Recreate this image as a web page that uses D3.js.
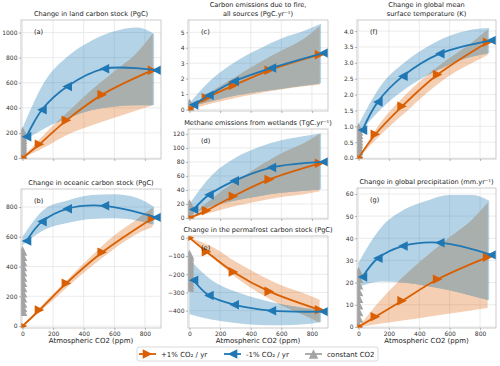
<!DOCTYPE html>
<html>
<head>
<meta charset="utf-8">
<script src="https://cdn.jsdelivr.net/npm/d3@7"></script>
<style>
  body { margin: 0; background: #fff; }
  text { font-family: "DejaVu Sans", sans-serif; }
</style>
</head>
<body>
<svg id="chart" width="500" height="366"></svg>
<script>
/**
 * Data. CO2 at the markers (ppm) for the ramp-up and ramp-down runs.
 */
const upCO2 = [0, 111, 287, 521, 850];
const downCO2 = [875, 535, 292, 127, 26];
// CO2 grid for the model spread bands
const upBandCO2 = [0, 150, 300, 450, 600, 750, 850];
const downBandCO2 = [0, 150, 300, 450, 600, 750, 860];
const xTicks = [0, 200, 400, 600, 800];

// (a) land carbon stock
const landUp = [0, 110, 300, 505, 700];
const landDown = [700, 712, 570, 385, 170];
const landUpLo = [0, 90, 190, 260, 320, 380, 420];
const landUpHi = [0, 200, 370, 540, 690, 840, 990];
const landDownLo = [130, 240, 320, 380, 410, 420, 420];
const landDownHi = [240, 620, 815, 935, 1010, 1040, 990];
const landConst = [210, 190, 170, 150, 130, 110, 90, 70, 50, 30, 10];

// (b) oceanic carbon stock
const oceanUp = [0, 108, 288, 496, 725];
const oceanDown = [730, 808, 788, 702, 572];
const oceanUpLo = [0, 130, 270, 400, 520, 620, 665];
const oceanUpHi = [0, 165, 320, 470, 610, 720, 795];
const oceanDownLo = [545, 650, 695, 720, 725, 710, 680];
const oceanDownHi = [600, 790, 845, 880, 885, 860, 800];
const oceanConst = [505, 470, 435, 400, 365, 330, 295, 260, 225, 190, 155, 125, 100];

// (c) fire emissions
const fireUp = [0.05, 0.75, 1.55, 2.54, 3.55];
const fireDown = [3.66, 2.69, 1.83, 0.92, 0.3];
const fireUpLo = [0, 0.4, 0.75, 1.05, 1.3, 1.5, 1.6];
const fireUpHi = [0.1, 1.2, 2.1, 3.0, 3.8, 4.6, 5.4];
const fireDownLo = [0.2, 0.55, 0.9, 1.15, 1.35, 1.55, 1.7];
const fireDownHi = [0.4, 2.0, 3.1, 3.9, 4.6, 5.1, 5.55];
const fireConst = [0.4, 0.3, 0.2, 0.1, 0];

// (d) wetland methane
const ch4Up = [0, 10.5, 31, 55, 78];
const ch4Down = [80, 72, 53, 33, 12];
const ch4UpLo = [0, 8, 17, 24, 30, 34, 38];
const ch4UpHi = [0, 28, 52, 73, 92, 107, 120];
const ch4DownLo = [4, 17, 25, 31, 36, 39, 41];
const ch4DownHi = [20, 62, 86, 101, 111, 117, 121];
const ch4Const = [20, 16, 12, 8, 4, 0];

// (e) permafrost carbon stock
const pfUp = [0, -76, -187, -294, -395];
const pfDown = [-405, -400, -367, -317, -233];
const pfUpLo = [0, -110, -215, -300, -370, -425, -465];
const pfUpHi = [0, -50, -130, -200, -260, -305, -340];
const pfDownLo = [-420, -450, -468, -478, -480, -475, -462];
const pfDownHi = [-120, -235, -295, -335, -365, -385, -395];
const pfConst = [-270, -255, -240, -225, -210, -195, -180, -165, -150, -135, -120, -105, -92];

// (f) global mean surface temperature
const tasUp = [0, 0.75, 1.63, 2.63, 3.65];
const tasDown = [3.71, 3.29, 2.58, 1.77, 0.88];
const tasUpLo = [0, 0.75, 1.4, 2.05, 2.6, 3.0, 3.25];
const tasUpHi = [0, 1.15, 1.95, 2.6, 3.15, 3.65, 4.05];
const tasDownLo = [0.75, 1.55, 2.15, 2.6, 2.95, 3.2, 3.3];
const tasDownHi = [1.05, 2.3, 3.0, 3.5, 3.85, 4.05, 4.1];
const tasConst = [0.95, 0.85, 0.75, 0.65, 0.55, 0.45, 0.35, 0.25, 0.15, 0.05];

// (g) global precipitation
const prUp = [0, 4.6, 11.8, 21.5, 31.5];
const prDown = [32.5, 38, 36.5, 31, 22.5];
const prUpLo = [0, 1.5, 3, 4.5, 6, 7.5, 8.5];
const prUpHi = [0, 12.5, 23, 32, 40.5, 48.5, 56];
const prDownLo = [18, 20.5, 20, 18.5, 16.5, 14, 12];
const prDownHi = [29, 45, 53, 57, 59.5, 59.5, 57];
const prConst = [25, 22, 19, 16, 13, 10, 7, 4, 1];

const legendLabels = ['+1% CO\u2082 / yr', '-1% CO\u2082 / yr', 'constant CO2'];

/**
 * Visual configs.
 */
const upColor = '#d95f02', downColor = '#1f78b4', constColor = '#a4a4a4', overlapColor = '#a9afad';
const colLeft = [21, 188, 357], colRight = [161, 328, 496];
const xDomain = [-10, 905];
const markerSize = 4.8;
const lineWidth = 1.8;

const panels = [
    { letter: 'a', title: ['Change in land carbon stock (PgC)'], col: 0, top: 20, bottom: 159,
      yDomain: [-8, 1100], yTicks: [0, 200, 400, 600, 800, 1000], fmt: d3.format('d'),
      up: landUp, down: landDown, upLo: landUpLo, upHi: landUpHi, downLo: landDownLo, downHi: landDownHi, cst: landConst },
    { letter: 'b', title: ['Change in oceanic carbon stock (PgC)'], col: 0, top: 189, bottom: 328,
      yDomain: [-13, 921], yTicks: [0, 200, 400, 600, 800], fmt: d3.format('d'), xAxis: true,
      up: oceanUp, down: oceanDown, upLo: oceanUpLo, upHi: oceanUpHi, downLo: oceanDownLo, downHi: oceanDownHi, cst: oceanConst },
    { letter: 'c', title: ['Carbon emissions due to fire,', 'all sources (PgC.yr\u207b\u00b9)'], col: 1, top: 20, bottom: 111,
      yDomain: [-0.1, 5.8], yTicks: [0, 1, 2, 3, 4, 5], fmt: d3.format('d'),
      up: fireUp, down: fireDown, upLo: fireUpLo, upHi: fireUpHi, downLo: fireDownLo, downHi: fireDownHi, cst: fireConst },
    { letter: 'd', title: ['Methane emissions from wetlands (TgC.yr\u207b\u00b9)'], col: 1, top: 129, bottom: 219,
      yDomain: [-1.5, 127], yTicks: [0, 20, 40, 60, 80, 100, 120], fmt: d3.format('d'),
      up: ch4Up, down: ch4Down, upLo: ch4UpLo, upHi: ch4UpHi, downLo: ch4DownLo, downHi: ch4DownHi, cst: ch4Const },
    { letter: 'e', title: ['Change in the permafrost carbon stock (PgC)'], col: 1, top: 236, bottom: 328,
      yDomain: [-495, 10], yTicks: [0, -100, -200, -300, -400], fmt: d3.format('d'), xAxis: true,
      up: pfUp, down: pfDown, upLo: pfUpLo, upHi: pfUpHi, downLo: pfDownLo, downHi: pfDownHi, cst: pfConst },
    { letter: 'f', title: ['Change in global mean', 'surface temperature (K)'], col: 2, top: 20, bottom: 159,
      yDomain: [-0.03, 4.35], yTicks: [0, 0.5, 1, 1.5, 2, 2.5, 3, 3.5, 4], fmt: d3.format('.1f'),
      up: tasUp, down: tasDown, upLo: tasUpLo, upHi: tasUpHi, downLo: tasDownLo, downHi: tasDownHi, cst: tasConst },
    { letter: 'g', title: ['Change in global precipitation (mm.yr\u207b\u00b9)'], col: 2, top: 188, bottom: 328,
      yDomain: [-0.5, 62.7], yTicks: [0, 10, 20, 30, 40, 50, 60], fmt: d3.format('d'), xAxis: true,
      up: prUp, down: prDown, upLo: prUpLo, upHi: prUpHi, downLo: prDownLo, downHi: prDownHi, cst: prConst }
];

const svg = d3.select('#chart');
const defs = svg.append('defs');

/**
 * Triangle marker path, matplotlib style ('>', '<', '^').
 */
function tri(dir, r) {
    if (dir === '>') return `M${r},0L${-r},${-r}L${-r},${r}Z`;
    if (dir === '<') return `M${-r},0L${r},${-r}L${r},${r}Z`;
    return `M0,${-r}L${-r},${r}L${r},${r}Z`;
}

panels.forEach(drawPanel);
drawLegend();

/**
 * Draws one panel.
 */
function drawPanel(p, i) {
    const left = colLeft[p.col], right = colRight[p.col];
    const xs = d3.scaleLinear().domain(xDomain).range([left, right]);
    const ys = d3.scaleLinear().domain(p.yDomain).range([p.bottom, p.top]);

    defs.append('clipPath').attr('id', 'clip-' + i)
        .append('rect').attr('x', left).attr('y', p.top)
        .attr('width', right - left).attr('height', p.bottom - p.top);

    const g = svg.append('g').attr('class', 'panel');

    // Grid
    g.append('g').selectAll('line').data(xTicks).join('line')
        .attr('x1', d => xs(d)).attr('x2', d => xs(d))
        .attr('y1', p.top).attr('y2', p.bottom)
        .attr('stroke', '#e6e6e6').attr('stroke-width', 0.8);
    g.append('g').selectAll('line').data(p.yTicks).join('line')
        .attr('x1', left).attr('x2', right)
        .attr('y1', d => ys(d)).attr('y2', d => ys(d))
        .attr('stroke', '#e6e6e6').attr('stroke-width', 0.8);

    const plot = g.append('g').attr('clip-path', `url(#clip-${i})`);

    // Bands
    const upBand = upBandCO2.map((c, j) => ({ c, lo: p.upLo[j], hi: p.upHi[j] }));
    const downBand = downBandCO2.map((c, j) => ({ c, lo: p.downLo[j], hi: p.downHi[j] }));
    const area = d3.area().x(d => xs(d.c)).y0(d => ys(d.lo)).y1(d => ys(d.hi)).curve(d3.curveMonotoneX);

    plot.append('path').attr('d', area(upBand)).attr('fill', upColor).attr('fill-opacity', 0.3);
    plot.append('path').attr('d', area(downBand)).attr('fill', downColor).attr('fill-opacity', 0.33);

    // Overlap of both spreads shown in grey
    defs.append('clipPath').attr('id', 'upband-' + i)
        .append('path').attr('d', area(upBand));
    plot.append('g').attr('clip-path', `url(#upband-${i})`)
        .append('path').attr('d', area(downBand)).attr('fill', overlapColor);

    // Constant CO2 markers
    plot.append('g').selectAll('path').data(p.cst).join('path')
        .attr('d', tri('^', markerSize))
        .attr('transform', d => `translate(${xs(0)},${ys(d)})`)
        .attr('fill', constColor);

    // Lines
    const line = d3.line().x(d => xs(d[0])).y(d => ys(d[1])).curve(d3.curveCatmullRom);
    const upPts = upCO2.map((c, j) => [c, p.up[j]]);
    const downPts = downCO2.map((c, j) => [c, p.down[j]]);

    plot.append('path').attr('d', line(upPts)).attr('fill', 'none')
        .attr('stroke', upColor).attr('stroke-width', lineWidth);
    plot.append('g').selectAll('path').data(upPts).join('path')
        .attr('d', tri('>', markerSize))
        .attr('transform', d => `translate(${xs(d[0])},${ys(d[1])})`)
        .attr('fill', upColor);

    plot.append('path').attr('d', line(downPts)).attr('fill', 'none')
        .attr('stroke', downColor).attr('stroke-width', lineWidth);
    plot.append('g').selectAll('path').data(downPts).join('path')
        .attr('d', tri('<', markerSize))
        .attr('transform', d => `translate(${xs(d[0])},${ys(d[1])})`)
        .attr('fill', downColor);

    // Frame
    g.append('rect').attr('x', left).attr('y', p.top)
        .attr('width', right - left).attr('height', p.bottom - p.top)
        .attr('fill', 'none').attr('stroke', '#bfbfbf').attr('stroke-width', 0.8);

    // Axes
    const yAxis = g.append('g').attr('transform', `translate(${left},0)`)
        .call(d3.axisLeft(ys).tickValues(p.yTicks).tickFormat(p.fmt).tickSize(2).tickPadding(1.5));
    styleAxis(yAxis);

    const xAxis = g.append('g').attr('transform', `translate(0,${p.bottom})`)
        .call(d3.axisBottom(xs).tickValues(xTicks).tickSize(2).tickPadding(1.5)
            .tickFormat(p.xAxis ? d3.format('d') : ''));
    styleAxis(xAxis);

    if (p.xAxis) {
        g.append('text').attr('x', (left + right) / 2).attr('y', 343)
            .attr('text-anchor', 'middle').attr('font-size', 7).attr('fill', '#222')
            .text('Atmospheric CO2 (ppm)');
    }

    // Title
    const n = p.title.length;
    p.title.forEach((t, k) => {
        g.append('text').attr('x', (left + right) / 2)
            .attr('y', p.top - 4 - (n - 1 - k) * 9)
            .attr('text-anchor', 'middle').attr('font-size', 6.6).attr('fill', '#222')
            .text(t);
    });

    // Panel letter
    g.append('text').attr('x', left + 13).attr('y', p.top + 14)
        .attr('font-size', 6.6).attr('fill', '#222').text('(' + p.letter + ')');
}

function styleAxis(axis) {
    axis.select('.domain').remove();
    axis.selectAll('.tick line').attr('stroke', '#888').attr('stroke-width', 0.6);
    axis.selectAll('.tick text').attr('font-size', 6).attr('fill', '#333')
        .attr('font-family', '"DejaVu Sans", sans-serif');
}

/**
 * Legend below the panels.
 */
function drawLegend() {
    const lg = svg.append('g').attr('transform', 'translate(0,354)');
    lg.append('rect').attr('x', 137).attr('y', -7).attr('width', 241).attr('height', 14)
        .attr('rx', 2).attr('fill', '#fff').attr('stroke', '#d0d0d0').attr('stroke-width', 0.8);

    const items = [
        { x: 139, color: upColor, dir: '>' },
        { x: 224, color: downColor, dir: '<' },
        { x: 305, color: constColor, dir: '^' }
    ];
    items.forEach((it, k) => {
        lg.append('line').attr('x1', it.x).attr('x2', it.x + 17).attr('y1', 0).attr('y2', 0)
            .attr('stroke', it.color).attr('stroke-width', lineWidth);
        lg.append('path').attr('d', tri(it.dir, markerSize))
            .attr('transform', `translate(${it.x + 8.5},0)`).attr('fill', it.color);
        lg.append('text').attr('x', it.x + 22).attr('y', 2.5)
            .attr('font-size', 7).attr('fill', '#222').text(legendLabels[k]);
    });
}
</script>
</body>
</html>
